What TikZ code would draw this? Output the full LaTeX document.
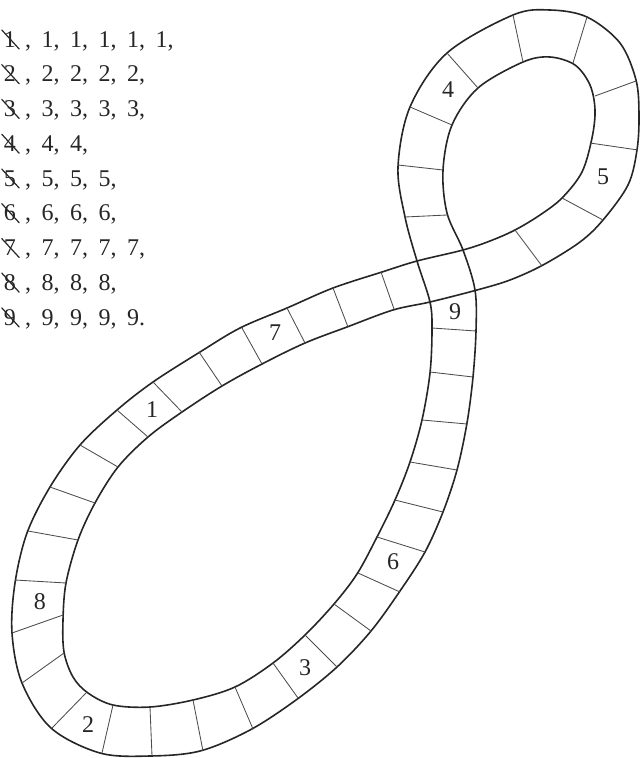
\documentclass[tikz,border=0pt]{standalone}
\usepackage{fontspec}
\setmainfont{Liberation Serif}
\newcommand\mylooseskip{\spaceskip 10.5pt\relax}
\begin{document}
\begin{tikzpicture}[x=1pt,y=-1pt,
  trackedge/.style={line width=1.6pt, draw=black!85, line join=round},
  divider/.style={line width=0.85pt, draw=black!70},
  lbl/.style={font=\fontsize{24}{24}\selectfont, inner sep=0pt, text=black!85},
  txt/.style={font=\fontsize{24}{24}\selectfont\mylooseskip, inner sep=0pt, text=black!85},
  strike/.style={line width=1.2pt, draw=black!85, line cap=round}]
\useasboundingbox (0,0) rectangle (640,758);

% edge B: outer of lower loop / inner of upper loop
\draw[trackedge] plot[smooth cycle, tension=0.55] coordinates {
 (463,250) (417,261) (382,272) (333,288) (287,308) (240,328) (200,352)
 (153,382) (117,410) (80,445) (50,487) (27,533) (15,583) (12,633)
 (22,683) (51,728) (100,753) (150,756) (200,751) (250,730) (296,700)
 (337,667) (371,631) (400,591) (425,552) (443,512) (457,470) (467,423)
 (473,377) (476,331) (475,290) (463,250) (447,213) (443,170) (452,125)
 (478,88) (523,62) (550,57) (575,65) (590,85) (595,110) (592,138)
 (582,172) (562,198) (540,215) (515,230) (490,241)};

% edge A: inner of lower loop / outer of upper loop
\draw[trackedge] plot[smooth cycle, tension=0.55] coordinates {
 (430,302) (393,310) (347,327) (305,343) (262,364) (222,386) (182,412)
 (148,437) (118,467) (95,503) (78,540) (66,583) (63,620) (64,652)
 (73,677) (88,693) (113,705) (150,707) (193,700) (235,687) (273,663)
 (305,635) (334,604) (357,574) (377,537) (395,500) (410,462) (422,420)
 (430,373) (432,330) (430,302) (417,261) (405,217) (398,167) (410,107)
 (447,53) (513,15) (550,10) (587,17) (620,43) (636,80) (639,115)
 (637,150) (628,185) (603,220) (580,242) (543,265) (510,280) (477,290)};

% dividers
\foreach \ax/\ay/\bx/\by in {
 410/107/452/125, 447/53/478/88, 513/15/523/62, 587/17/573/63,
 636/81/595/96, 590/143/638/150, 562/198/603/220, 515/230/542/266,
 398/165/443/170, 405/217/447/215,
 381/272/394/309, 333/288/348/327, 287/308/305/343, 242/328/262/364,
 199/352/222/386, 153/382/182/412, 117/410/148/437, 80/445/118/467,
 50/487/95/503, 28/531/78/540, 15/580/66/583, 12/633/63/615,
 22/683/64/653, 52/728/86/693, 102/753/113/705, 152/756/150/707,
 203/751/193/700, 253/729/235/687, 298/698/273/663, 337/667/305/635,
 371/631/334/604, 400/592/358/573, 425/552/377/537, 443/512/395/500,
 457/470/410/462, 467/424/422/420, 473/377/430/372, 476/331/432/328}
 \draw[divider] (\ax,\ay) -- (\bx,\by);

% track labels
\node[lbl] (L4) at (448,90) {4};
\node[lbl] (L5) at (603,177) {5};
\node[lbl] (L9) at (455,312) {9};
\node[lbl] (L7) at (275,333) {7};
\node[lbl] (L1) at (152,410) {1};
\node[lbl] (L8) at (40,602) {8};
\node[lbl] (L2) at (88,725) {2};
\node[lbl] (L3) at (305,668) {3};
\node[lbl] (L6) at (393,562) {6};

% list
\node[txt, anchor=base] (c1) at (10,47) {1};
\node[txt, anchor=base west] (t1) at (25,47) {, 1, 1, 1, 1, 1,};
\node[txt, anchor=base] (c2) at (10,81.75) {2};
\node[txt, anchor=base west] (t2) at (25,81.75) {, 2, 2, 2, 2,};
\node[txt, anchor=base] (c3) at (10,116.5) {3};
\node[txt, anchor=base west] (t3) at (25,116.5) {, 3, 3, 3, 3,};
\node[txt, anchor=base] (c4) at (10,151.25) {4};
\node[txt, anchor=base west] (t4) at (25,151.25) {, 4, 4,};
\node[txt, anchor=base] (c5) at (10,186) {5};
\node[txt, anchor=base west] (t5) at (25,186) {, 5, 5, 5,};
\node[txt, anchor=base] (c6) at (10,220.75) {6};
\node[txt, anchor=base west] (t6) at (25,220.75) {, 6, 6, 6,};
\node[txt, anchor=base] (c7) at (10,255.5) {7};
\node[txt, anchor=base west] (t7) at (25,255.5) {, 7, 7, 7, 7,};
\node[txt, anchor=base] (c8) at (10,290.25) {8};
\node[txt, anchor=base west] (t8) at (25,290.25) {, 8, 8, 8,};
\node[txt, anchor=base] (c9) at (10,325) {9};
\node[txt, anchor=base west] (t9) at (25,325) {, 9, 9, 9, 9.};
\foreach \c in {c1,c2,c3,c4,c5,c6,c7,c8,c9}
  \draw[strike] ([shift={(-2,-1)}]\c.north west) -- ([shift={(3,2)}]\c.base east);
\end{tikzpicture}
\end{document}
